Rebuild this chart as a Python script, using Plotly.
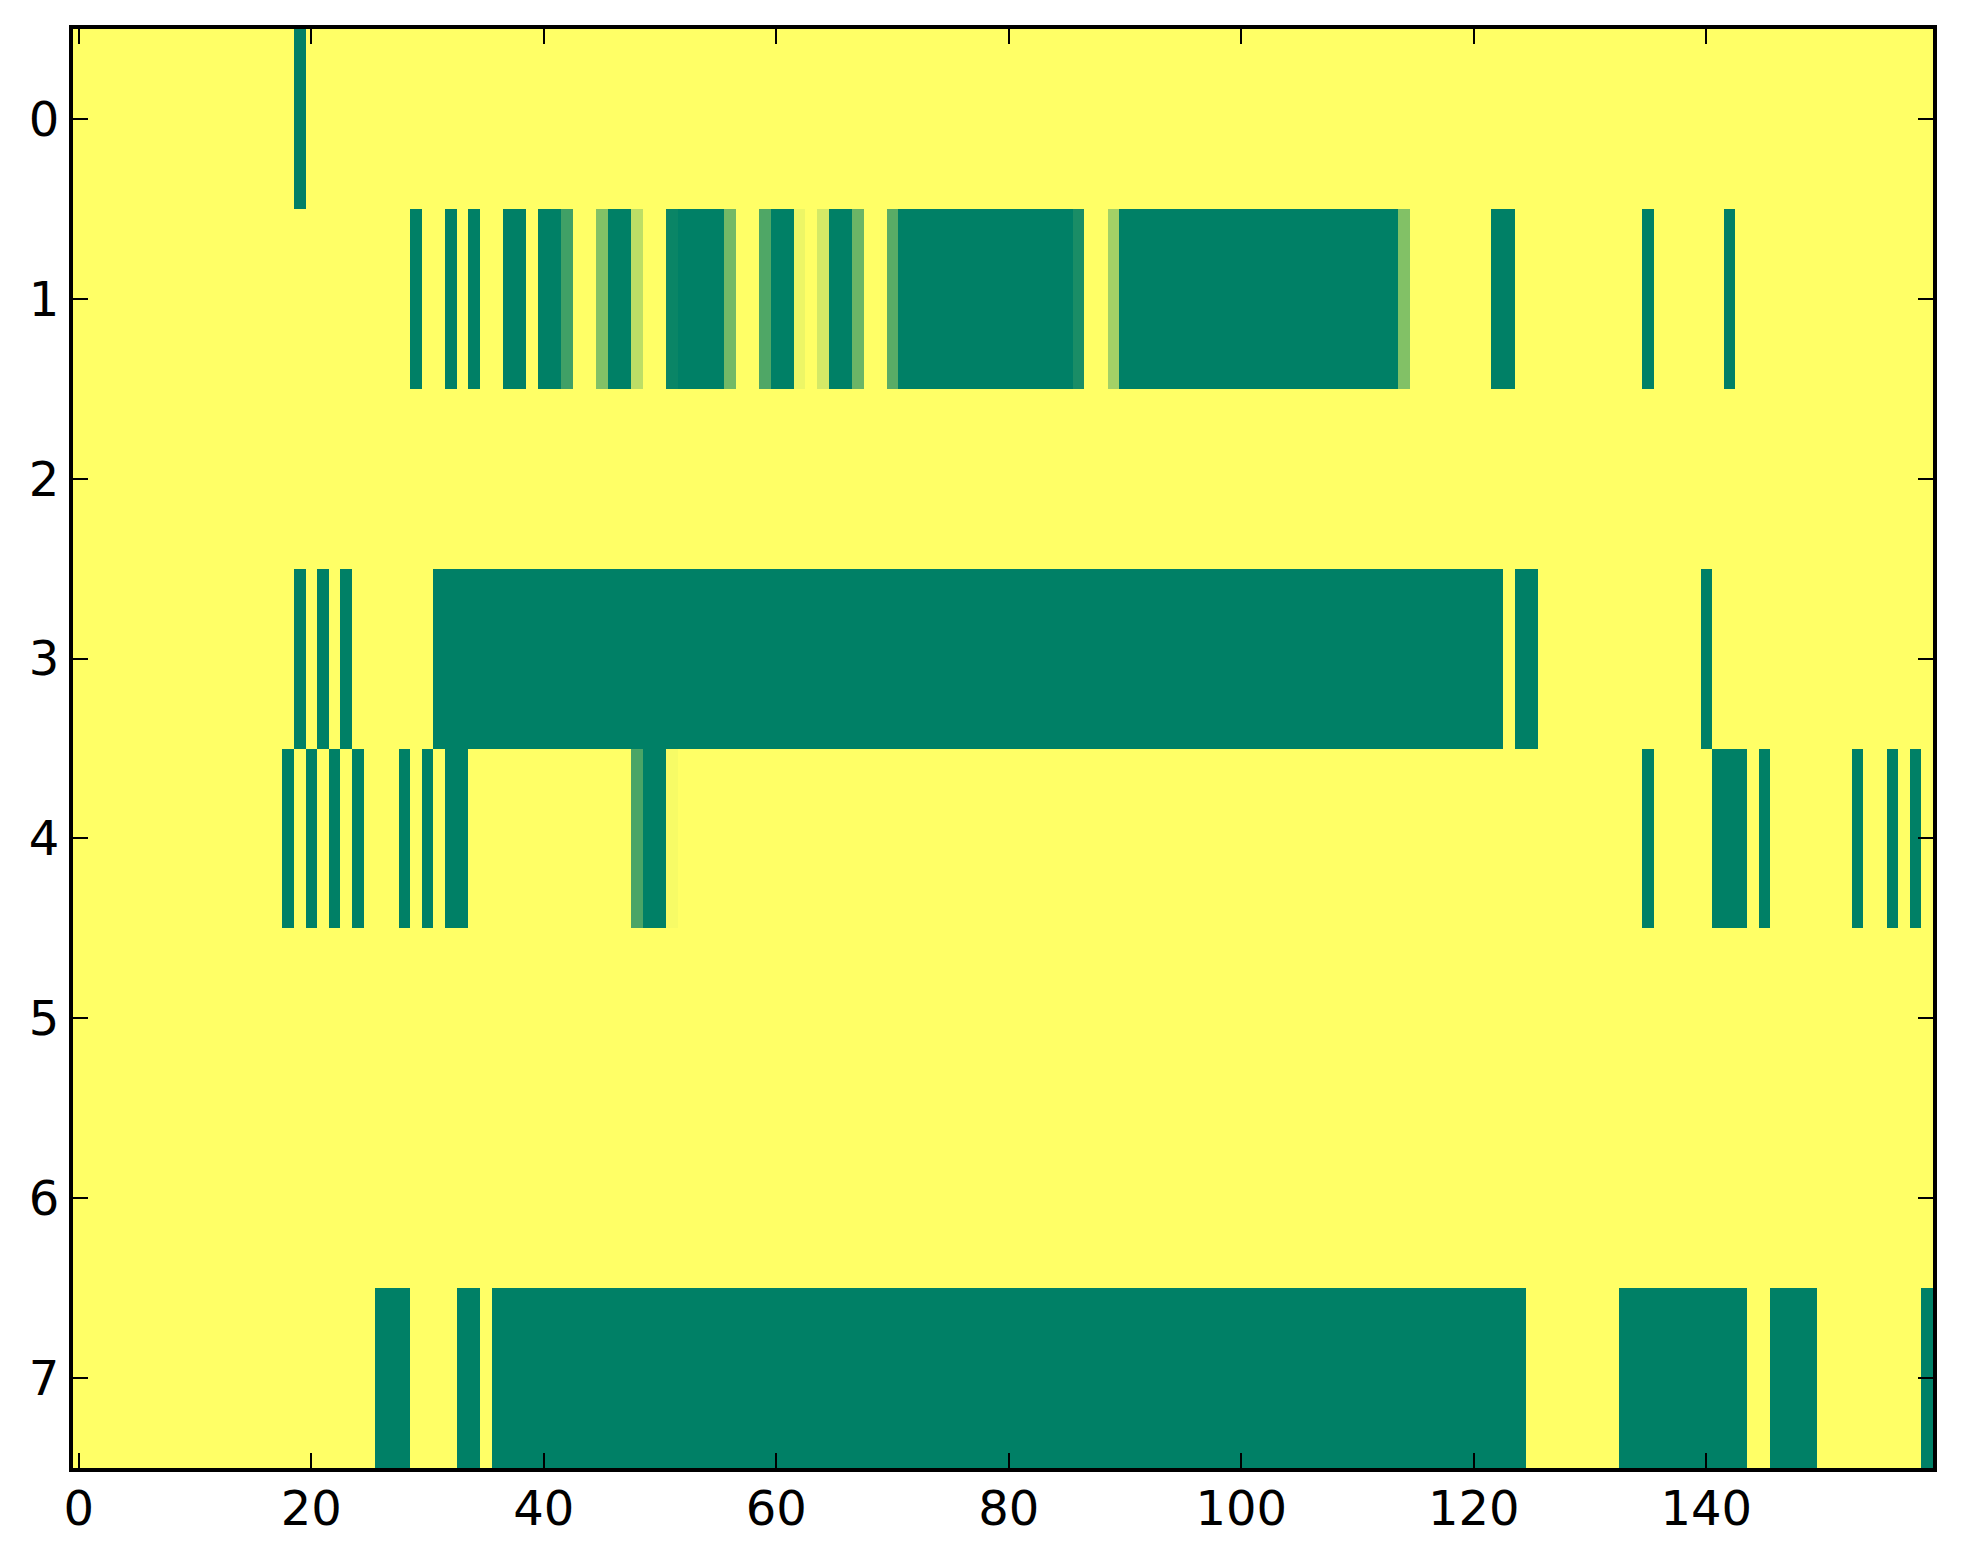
#!/usr/bin/env python3
"""
Heatmap of 8 channels x 160 samples, matplotlib 'summer' look, redrawn in Plotly.
"""

import numpy as np
import plotly.graph_objects as go

n_cols = 160
n_rows = 8

# non-yellow cells per row: (first col, last col, value); everything else is 1.0
row0_cells = [(19, 19, 0.0)]
row1_cells = [
    (29, 29, 0.0), (32, 32, 0.0), (34, 34, 0.0), (37, 38, 0.0), (40, 41, 0.0),
    (42, 42, 0.25), (45, 45, 0.51), (46, 47, 0.0), (48, 48, 0.74),
    (51, 51, 0.04), (52, 55, 0.0), (56, 56, 0.45), (59, 59, 0.31),
    (60, 61, 0.0), (62, 62, 0.93), (64, 64, 0.83), (65, 66, 0.0),
    (67, 67, 0.42), (70, 70, 0.35), (71, 85, 0.0), (86, 86, 0.10),
    (89, 89, 0.64), (90, 113, 0.0), (114, 114, 0.51), (122, 123, 0.0),
    (135, 135, 0.0), (142, 142, 0.0),
]
row2_cells = []
row3_cells = [
    (19, 19, 0.0), (21, 21, 0.0), (23, 23, 0.0), (31, 122, 0.0),
    (124, 125, 0.0), (140, 140, 0.0),
]
row4_cells = [
    (18, 18, 0.0), (20, 20, 0.0), (22, 22, 0.0), (24, 24, 0.0), (28, 28, 0.0),
    (30, 30, 0.0), (32, 33, 0.0), (48, 48, 0.29), (49, 50, 0.0),
    (51, 51, 0.97), (135, 135, 0.0), (141, 143, 0.0), (145, 145, 0.0),
    (153, 153, 0.0), (156, 156, 0.0), (158, 158, 0.0),
]
row5_cells = []
row6_cells = []
row7_cells = [
    (26, 28, 0.0), (33, 34, 0.0), (36, 124, 0.0), (133, 143, 0.0),
    (146, 149, 0.0), (159, 159, 0.0),
]

x_ticks = [0, 20, 40, 60, 80, 100, 120, 140]
y_ticks = [0, 1, 2, 3, 4, 5, 6, 7]


def build_grid():
    grid = np.ones((n_rows, n_cols))
    rows = [row0_cells, row1_cells, row2_cells, row3_cells,
            row4_cells, row5_cells, row6_cells, row7_cells]
    for r, cells in enumerate(rows):
        for start, stop, val in cells:
            grid[r, start:stop + 1] = val
    return grid


z = build_grid()

# matplotlib 'summer': (v, 0.5 + v/2, 0.4)
summer = [[0.0, "rgb(0,128,102)"], [1.0, "rgb(255,255,102)"]]

fig = go.Figure(
    go.Heatmap(
        z=z,
        x=list(range(n_cols)),
        y=list(range(n_rows)),
        colorscale=summer,
        zmin=0, zmax=1,
        showscale=False,
        hoverinfo="skip",
    )
)

axis_style = dict(
    showline=True, linewidth=4, linecolor="black", mirror="allticks",
    ticks="inside", ticklen=15, tickwidth=2, tickcolor="black",
    showgrid=False, zeroline=False,
    tickfont=dict(family="DejaVu Sans", size=48, color="black"),
)

fig.update_xaxes(range=[-0.5, 159.5], tickvals=x_ticks,
                 ticklabelstandoff=-5, **axis_style)
fig.update_yaxes(range=[7.5, -0.5], tickvals=y_ticks, **axis_style)

fig.update_layout(
    width=1947, height=1540,
    margin=dict(l=65, r=22, t=21, b=80),
    paper_bgcolor="white",
    plot_bgcolor="white",
)

fig.write_html("out.html")
